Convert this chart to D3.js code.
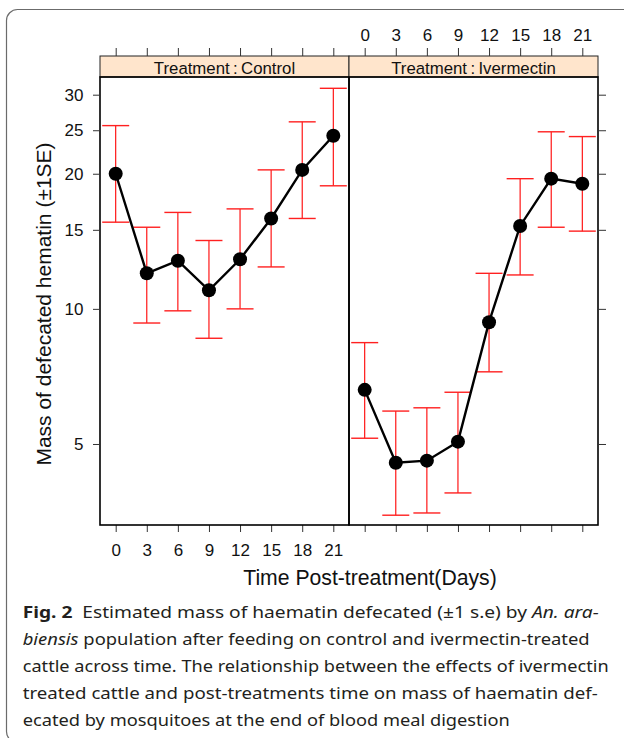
<!DOCTYPE html>
<html>
<head>
<meta charset="utf-8">
<script src="https://cdn.jsdelivr.net/npm/d3@7"></script>
<style>
  html, body { margin: 0; padding: 0; background: #fff; }
  svg { display: block; }
</style>
</head>
<body>
<svg id="chart" width="624" height="738"></svg>
<script>
// ---------------- data ----------------
const days = [0, 3, 6, 9, 12, 15, 18, 21];
const panels = ["Control", "Ivermectin"];
const controlMean  = [20.0, 12.0, 12.8, 11.0, 12.9, 15.9, 20.4, 24.3];
const controlLower = [15.6,  9.3,  9.9,  8.6, 10.0, 12.4, 15.9, 18.8];
const controlUpper = [25.6, 15.2, 16.4, 14.2, 16.7, 20.4, 26.1, 31.0];
const ivermectinMean  = [6.6, 4.54, 4.59, 5.06,  9.34, 15.3, 19.5, 19.0];
const ivermectinLower = [5.15, 3.47, 3.51, 3.89,  7.24, 11.9, 15.2, 14.9];
const ivermectinUpper = [8.41, 5.92, 6.02, 6.52, 12.0, 19.5, 24.8, 24.2];
const yTicks = [5, 10, 15, 20, 25, 30];
const xTicks = [0, 3, 6, 9, 12, 15, 18, 21];
const xTitle = "Time Post-treatment(Days)";
const yTitle = "Mass of defecated hematin (\u00b11SE)";

const seriesByPanel = {
  Control: days.map((d, i) => ({ day: d, mean: controlMean[i], lo: controlLower[i], hi: controlUpper[i] })),
  Ivermectin: days.map((d, i) => ({ day: d, mean: ivermectinMean[i], lo: ivermectinLower[i], hi: ivermectinUpper[i] }))
};

// ---------------- layout ----------------
const svg = d3.select("#chart");
const panelTop = 77, panelBottom = 525, stripTop = 56;
const panelLeft = 100, panelW = 249;
const chartFont = "'Liberation Sans', Arial, sans-serif";

// outer rounded frame
svg.append("rect")
  .attr("x", 6.5).attr("y", 9.5).attr("width", 660).attr("height", 733)
  .attr("rx", 11).attr("ry", 11)
  .attr("fill", "none").attr("stroke", "#6b6b6b").attr("stroke-width", 1.2);

const y = d3.scaleLog().domain([3.30, 32.85]).range([panelBottom, panelTop]);

panels.forEach((p, pi) => {
  const x0 = panelLeft + pi * panelW;
  const x = d3.scaleLinear().domain([-1.515, 22.515]).range([x0, x0 + panelW]);
  const data = seriesByPanel[p];

  // strip
  svg.append("rect")
    .attr("x", x0).attr("y", stripTop).attr("width", panelW).attr("height", panelTop - stripTop)
    .attr("fill", "#FFE5CC").attr("stroke", "#222").attr("stroke-width", 1);
  svg.append("text")
    .attr("x", x0 + panelW / 2).attr("y", 74)
    .attr("text-anchor", "middle")
    .attr("font-family", chartFont).attr("font-size", 16.8).attr("fill", "#111")
    .text("Treatment\u2009:\u2009" + p);

  // top axis (ticks above strip)
  const top = svg.append("g").attr("transform", `translate(0,${stripTop})`)
    .call(d3.axisTop(x).tickValues(xTicks).tickSize(8).tickPadding(7)
      .tickFormat(pi === 1 ? d3.format("d") : () => ""));
  // bottom axis
  const bot = svg.append("g").attr("transform", `translate(0,${panelBottom})`)
    .call(d3.axisBottom(x).tickValues(xTicks).tickSize(7).tickPadding(11.5)
      .tickFormat(pi === 0 ? d3.format("d") : () => ""));
  [top, bot].forEach(g => {
    g.select(".domain").remove();
    g.selectAll(".tick line").attr("stroke", "#333").attr("stroke-width", 1);
    g.selectAll(".tick text").attr("font-family", chartFont).attr("font-size", 17).attr("fill", "#111");
  });

  const plot = svg.append("g");
  // error bars
  const eb = plot.selectAll(".eb").data(data).enter().append("g").attr("class", "eb");
  eb.append("line")
    .attr("x1", d => x(d.day)).attr("x2", d => x(d.day))
    .attr("y1", d => y(d.lo)).attr("y2", d => y(d.hi))
    .attr("stroke", "#ff0000").attr("stroke-width", 1.1);
  eb.append("line")
    .attr("x1", d => x(d.day) - 13.5).attr("x2", d => x(d.day) + 13.5)
    .attr("y1", d => y(d.hi)).attr("y2", d => y(d.hi))
    .attr("stroke", "#ff2020").attr("stroke-width", 1.4);
  eb.append("line")
    .attr("x1", d => x(d.day) - 13.5).attr("x2", d => x(d.day) + 13.5)
    .attr("y1", d => y(d.lo)).attr("y2", d => y(d.lo))
    .attr("stroke", "#ff2020").attr("stroke-width", 1.4);

  // line
  plot.append("path").datum(data)
    .attr("d", d3.line().x(d => x(d.day)).y(d => y(d.mean)))
    .attr("fill", "none").attr("stroke", "#000").attr("stroke-width", 2.4);
  // points
  plot.selectAll(".pt").data(data).enter().append("circle")
    .attr("cx", d => x(d.day)).attr("cy", d => y(d.mean)).attr("r", 7)
    .attr("fill", "#000");

  // panel border
  svg.append("rect")
    .attr("x", x0).attr("y", panelTop).attr("width", panelW).attr("height", panelBottom - panelTop)
    .attr("fill", "none").attr("stroke", "#000").attr("stroke-width", 1.6);
});

// y axes
const yl = svg.append("g").attr("transform", `translate(${panelLeft},0)`)
  .call(d3.axisLeft(y).tickValues(yTicks).tickSize(7).tickPadding(9.5).tickFormat(d3.format("d")));
const yr = svg.append("g").attr("transform", `translate(${panelLeft + 2 * panelW},0)`)
  .call(d3.axisRight(y).tickValues(yTicks).tickSize(8).tickFormat(() => ""));
[yl, yr].forEach(g => {
  g.select(".domain").remove();
  g.selectAll(".tick line").attr("stroke", "#333").attr("stroke-width", 1);
  g.selectAll(".tick text").attr("font-family", chartFont).attr("font-size", 17).attr("fill", "#111");
});

// axis titles
svg.append("text")
  .attr("x", 370).attr("y", 585).attr("text-anchor", "middle")
  .attr("font-family", chartFont).attr("font-size", 21.2).attr("fill", "#111")
  .text(xTitle);
svg.append("text")
  .attr("transform", "translate(51,304) rotate(-90)")
  .attr("text-anchor", "middle")
  .attr("font-family", chartFont).attr("font-size", 21).attr("fill", "#111")
  .text(yTitle);

// caption
const capFont = "'Noto Sans', 'Open Sans', sans-serif";
const capLines = [
  { w: 576, parts: [["Fig. 2", "bold"], ["  Estimated mass of haematin defecated (\u00b11 s.e) by ", ""], ["An. ara-", "italic"]] },
  { w: 567, parts: [["biensis", "italic"], [" population after feeding on control and ivermectin-treated", ""]] },
  { w: 586, parts: [["cattle across time. The relationship between the effects of ivermectin", ""]] },
  { w: 575, parts: [["treated cattle and post-treatments time on mass of haematin def-", ""]] },
  { w: 487, parts: [["ecated by mosquitoes at the end of blood meal digestion", ""]] }
];
capLines.forEach((ln, i) => {
  const t = svg.append("text")
    .attr("x", 22.7).attr("y", 617.5 + i * 27.1)
    .attr("font-family", capFont).attr("font-size", 16.5).attr("fill", "#231f20")
    .attr("textLength", ln.w).attr("lengthAdjust", "spacingAndGlyphs")
    .attr("xml:space", "preserve");
  ln.parts.forEach(([s, st]) => {
    const ts = t.append("tspan").text(s);
    if (st === "bold") ts.attr("font-weight", "bold");
    if (st === "italic") ts.attr("font-style", "italic");
  });
});
</script>
</body>
</html>
